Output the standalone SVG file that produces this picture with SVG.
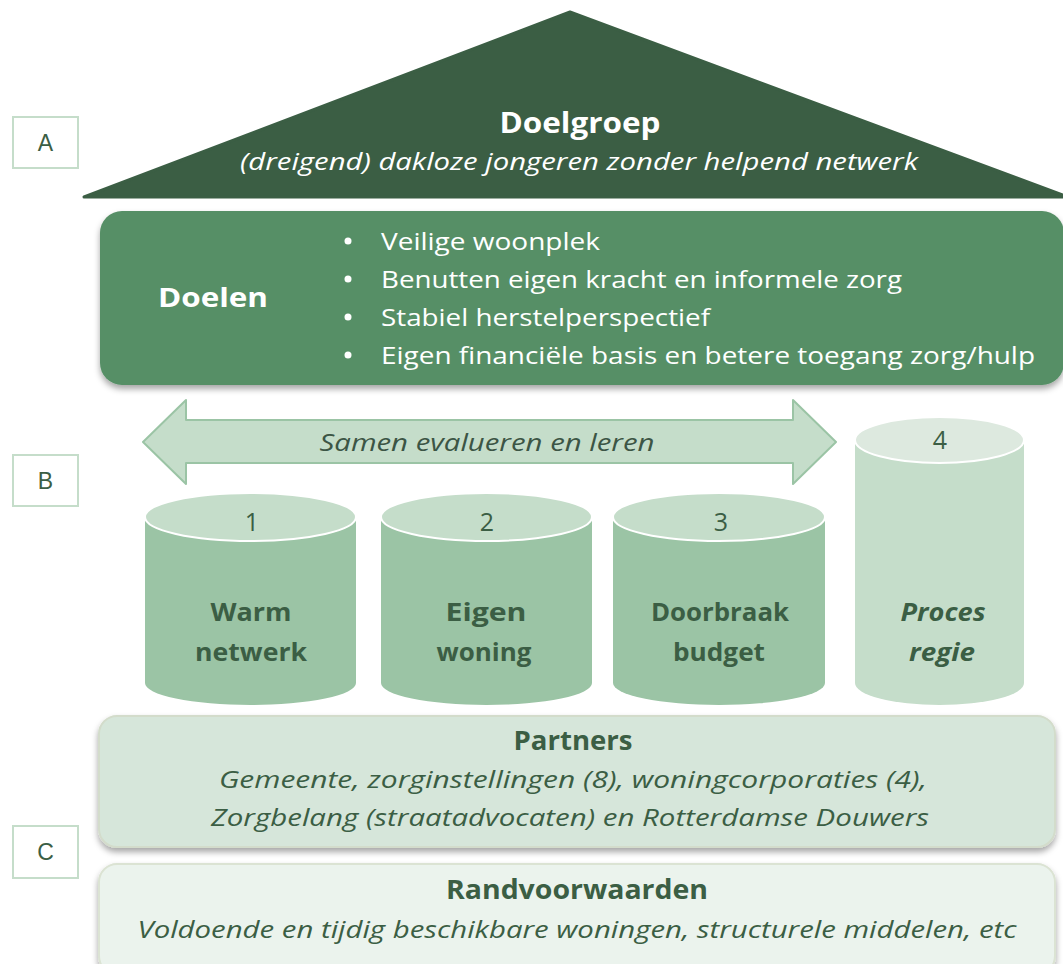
<svg xmlns="http://www.w3.org/2000/svg" width="1063" height="964" viewBox="0 0 1063 964">
<style>
.lbl{fill:#fff;stroke:#c5ddca;stroke-width:2}
.lt{font-family:"Liberation Sans",Arial,sans-serif;font-size:23px;fill:#3b5e44;text-anchor:middle}
.t{font-family:"Open Sans","Liberation Sans",sans-serif;text-anchor:middle}
.w{fill:#fff}
.d{fill:#3b5e44}
.b{font-weight:bold}
.i{font-style:italic}
.body{fill:#9bc4a5}
.cap{fill:#c5ddca;stroke:#fff;stroke-width:2}
.body4{fill:#c5ddca}
.cap4{fill:#dde9df;stroke:#fff;stroke-width:2}
.bul{fill:#fff}
</style>
<defs>
<filter id="sh" x="-5%" y="-20%" width="110%" height="150%">
<feDropShadow dx="0" dy="4" stdDeviation="3" flood-color="#000" flood-opacity="0.35"/>
</filter>
</defs>
<rect width="1063" height="964" fill="#fff"/>

<g id="labelA"><rect class="lbl" x="13" y="117" width="65" height="51"/><text class="lt" x="45.5" y="151">A</text></g>
<g id="labelB"><rect class="lbl" x="13" y="455" width="65" height="51"/><text class="lt" x="45.5" y="489">B</text></g>
<g id="labelC"><rect class="lbl" x="13" y="826" width="65" height="52"/><text class="lt" x="45.5" y="860">C</text></g>

<g id="doelgroep">
<polygon points="84,197 570,12 1068,197" fill="#3b5e44" stroke="#3b5e44" stroke-width="3" stroke-linejoin="round"/>
<text class="t w b" x="580" y="133" font-size="28" textLength="161" lengthAdjust="spacingAndGlyphs">Doelgroep</text>
<text class="t w i" x="579" y="170" font-size="24" textLength="678" lengthAdjust="spacingAndGlyphs">(dreigend) dakloze jongeren zonder helpend netwerk</text>
</g>

<g id="doelen">
<rect x="100" y="211" width="964" height="174" rx="22" fill="#568f66" filter="url(#sh)"/>
<text class="t w b" x="213" y="307" font-size="27" textLength="110" lengthAdjust="spacingAndGlyphs">Doelen</text>
<circle class="bul" cx="348" cy="241" r="3.5"/>
<circle class="bul" cx="348" cy="279" r="3.5"/>
<circle class="bul" cx="348" cy="317" r="3.5"/>
<circle class="bul" cx="348" cy="355" r="3.5"/>
<g font-family="'Open Sans','Liberation Sans',sans-serif" font-size="24" fill="#fff">
<text x="381" y="250" textLength="219" lengthAdjust="spacingAndGlyphs">Veilige woonplek</text>
<text x="381" y="288" textLength="521" lengthAdjust="spacingAndGlyphs">Benutten eigen kracht en informele zorg</text>
<text x="381" y="326" textLength="329" lengthAdjust="spacingAndGlyphs">Stabiel herstelperspectief</text>
<text x="381" y="364" textLength="654" lengthAdjust="spacingAndGlyphs">Eigen financiële basis en betere toegang zorg/hulp</text>
</g>
</g>

<g id="connectors">
<g id="evalueren">
<polygon points="143,442 186,400 186,420 793,420 793,400 836,442 793,484 793,463 186,463 186,484" fill="#c5ddca" stroke="#9bc4a5" stroke-width="2" stroke-linejoin="round"/>
<text class="t i" x="487" y="451" font-size="24" fill="#3c5545" textLength="335" lengthAdjust="spacingAndGlyphs">Samen evalueren en leren</text>
</g>
</g>

<g id="pijler1">
<path class="body" d="M145,519 V683 A105.5,22 0 0 0 356,683 V519 Z"/>
<ellipse class="cap" cx="250.5" cy="517" rx="105.5" ry="24"/>
<text class="t d" x="252" y="531" font-size="25">1</text>
<text class="t d b" x="251" y="621" font-size="25" textLength="81" lengthAdjust="spacingAndGlyphs">Warm</text>
<text class="t d b" x="251" y="661" font-size="25" textLength="112" lengthAdjust="spacingAndGlyphs">netwerk</text>
</g>
<g id="pijler2">
<path class="body" d="M381,519 V683 A105.5,22 0 0 0 592,683 V519 Z"/>
<ellipse class="cap" cx="486.5" cy="517" rx="105.5" ry="24"/>
<text class="t d" x="487" y="531" font-size="25">2</text>
<text class="t d b" x="486" y="621" font-size="25" textLength="81" lengthAdjust="spacingAndGlyphs">Eigen</text>
<text class="t d b" x="484" y="661" font-size="25" textLength="95" lengthAdjust="spacingAndGlyphs">woning</text>
</g>
<g id="pijler3">
<path class="body" d="M613,519 V683 A106,22 0 0 0 825,683 V519 Z"/>
<ellipse class="cap" cx="719" cy="517" rx="106" ry="24"/>
<text class="t d" x="721" y="531" font-size="25">3</text>
<text class="t d b" x="720" y="621" font-size="25" textLength="138" lengthAdjust="spacingAndGlyphs">Doorbraak</text>
<text class="t d b" x="719" y="661" font-size="25" textLength="92" lengthAdjust="spacingAndGlyphs">budget</text>
</g>
<g id="pijler4">
<path class="body4" d="M855,440 V683 A84.5,22 0 0 0 1024,683 V440 Z"/>
<ellipse class="cap4" cx="939.5" cy="440" rx="84.5" ry="23"/>
<text class="t d" x="940" y="449" font-size="25">4</text>
<text class="t d b i" x="943" y="621" font-size="25" textLength="85" lengthAdjust="spacingAndGlyphs">Proces</text>
<text class="t d b i" x="942" y="661" font-size="25" textLength="66" lengthAdjust="spacingAndGlyphs">regie</text>
</g>

<g id="partners">
<rect x="99" y="716" width="956" height="131" rx="18" fill="#d6e6da" stroke="#d3dccb" stroke-width="2" filter="url(#sh)"/>
<text class="t d b" x="573" y="750" font-size="26" textLength="119" lengthAdjust="spacingAndGlyphs">Partners</text>
<text class="t d i" x="573" y="788" font-size="24" textLength="708" lengthAdjust="spacingAndGlyphs">Gemeente, zorginstellingen (8), woningcorporaties (4),</text>
<text class="t d i" x="570" y="826" font-size="24" textLength="718" lengthAdjust="spacingAndGlyphs">Zorgbelang (straatadvocaten) en Rotterdamse Douwers</text>
</g>

<g id="randvoorwaarden">
<rect x="99" y="864" width="956" height="110" rx="18" fill="#ebf3ed" stroke="#dbe3d3" stroke-width="2" filter="url(#sh)"/>
<text class="t d b" x="577" y="899" font-size="26" textLength="262" lengthAdjust="spacingAndGlyphs">Randvoorwaarden</text>
<text class="t d i" x="577" y="938" font-size="24" textLength="879" lengthAdjust="spacingAndGlyphs">Voldoende en tijdig beschikbare woningen, structurele middelen, etc</text>
</g>
</svg>
